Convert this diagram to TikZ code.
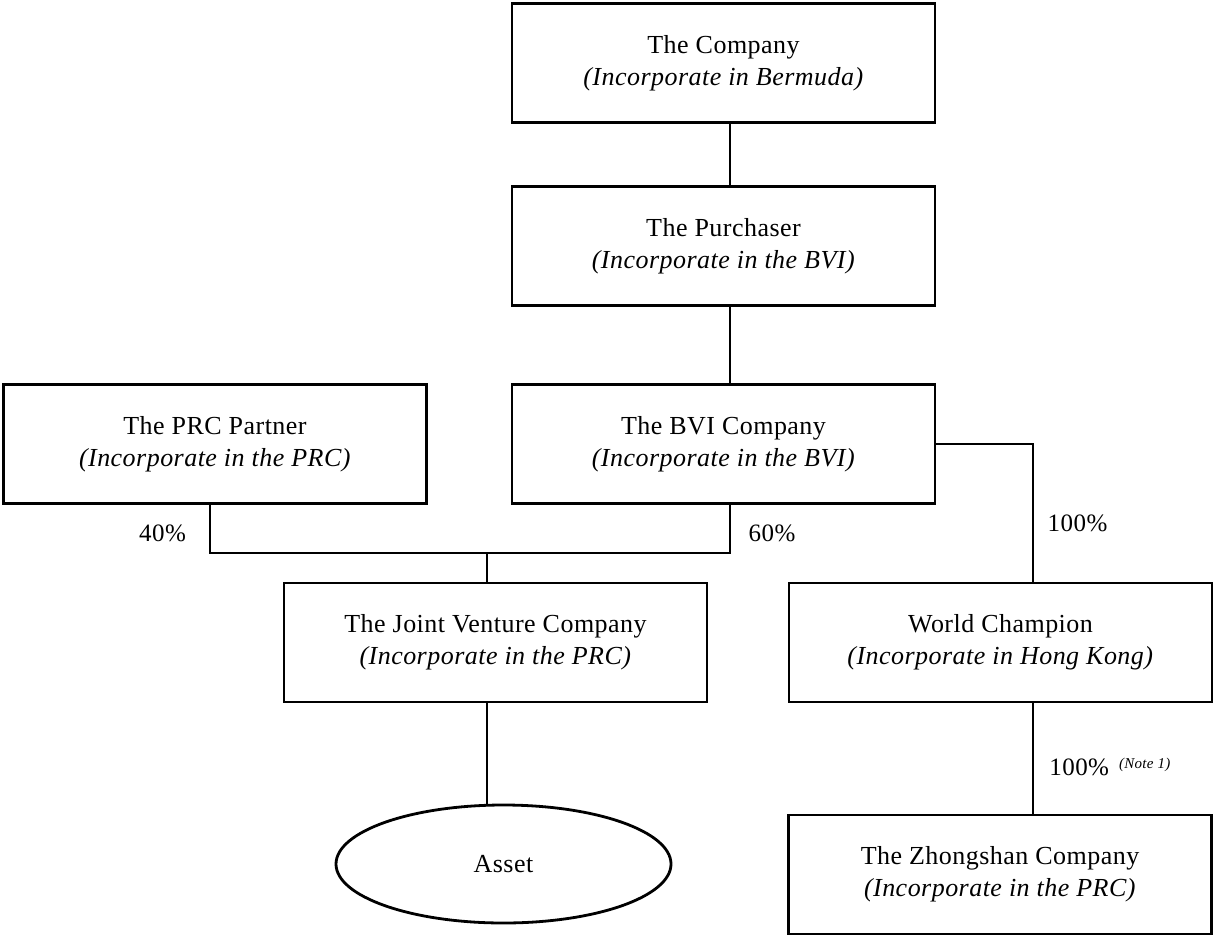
\documentclass[tikz,border=0pt]{standalone}
\usepackage{fontspec}
\setmainfont[LetterSpace=1.8]{Liberation Serif}
\usepackage{tikz}
\usetikzlibrary{%
        calc,
        math,
        shapes.geometric, % ellipse
    }

\begin{document}
\begin{tikzpicture}[x=0.5pt, y=-0.5pt, line width=1.4pt]
    \tikzmath{%
        % box size (pt)
        \boxw=211.5;
        \boxh=59.5;
        % connector positions
        \xtrunk=730;
        \xprc=210;
        \xjv=487;
        \xwc=1033;
        \yjoin=553;
    };

    \tikzset{%
        entity/.style={draw, minimum width=\boxw pt, minimum height=\boxh pt, inner sep=0pt, align=center, font=\fontsize{13}{16}\selectfont},
        share/.style={inner sep=0pt, font=\fontsize{12.5}{15}\selectfont},
    }

    \useasboundingbox (0, 0) rectangle (1213, 935);

    % boxes
    \node (company) [entity] at (723.5, 63) {The Company\\\textit{(Incorporate in Bermuda)}};
    \node (purchaser) [entity] at (723.5, 246) {The Purchaser\\\textit{(Incorporate in the BVI)}};
    \node (bvi) [entity] at (723.5, 444) {The BVI Company\\\textit{(Incorporate in the BVI)}};
    \node (prc) [entity] at (215, 444) {The PRC Partner\\\textit{(Incorporate in the PRC)}};
    \node (jv) [entity] at (495.5, 642.5) {The Joint Venture Company\\\textit{(Incorporate in the PRC)}};
    \node (wc) [entity] at (1000.5, 642.5) {World Champion\\\textit{(Incorporate in Hong Kong)}};
    \node (zs) [entity] at (1000, 874.5) {The Zhongshan Company\\\textit{(Incorporate in the PRC)}};
    \node (asset) [draw, ellipse, minimum width=167.5pt, minimum height=59pt, inner sep=0pt, font=\fontsize{13}{16}\selectfont] at (503.5, 864) {Asset};

    % 定义坐标
    \coordinate (trunk) at (\xtrunk, 0);
    \coordinate (prcdrop) at (\xprc, 0);
    \coordinate (wcdrop) at (\xwc, 0);
    \coordinate (join) at (\xjv, \yjoin);

    % lines
    \draw (company.south -| trunk) -- (purchaser.north -| trunk);
    \draw (purchaser.south -| trunk) -- (bvi.north -| trunk);
    \draw (prc.south -| prcdrop) |- (join) -| (bvi.south -| trunk);
    \draw (join) -- (jv.north -| join);
    \draw (jv.south -| join) -- (asset.north -| join);
    \draw (bvi.east) -| (wc.north -| wcdrop);
    \draw (wc.south -| wcdrop) -- (zs.north -| wcdrop);

    % shares
    \node (pct40) [share] at (162.5, 533) {40\%};
    \node (pct60) [share] at (772, 533) {60\%};
    \node (pctwc) [share] at (1077.5, 523) {100\%};
    \node (pctzs) [share, anchor=west] at (1048, 767) {100\%\hspace{5pt}\raisebox{3.5pt}{\fontsize{7.5}{9}\selectfont\textit{(Note 1)}}};
\end{tikzpicture}
\end{document}
